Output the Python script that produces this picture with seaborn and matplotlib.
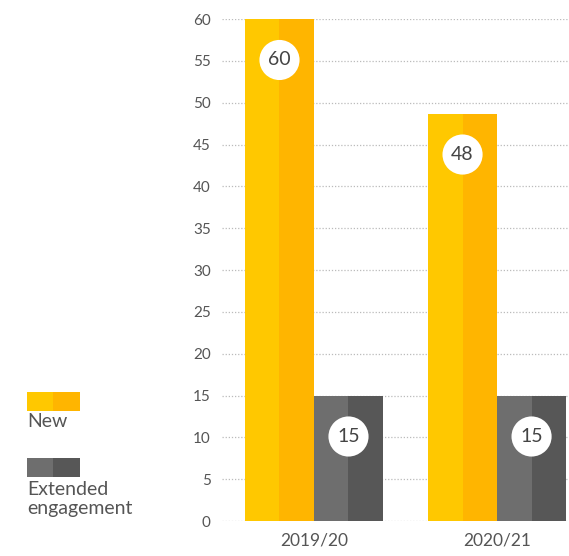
import matplotlib
matplotlib.use("Agg")
import matplotlib.pyplot as plt
from matplotlib.patches import Rectangle
import seaborn as sns
import pandas as pd

years = ["2019/20", "2020/21"]
new_vals = [60, 48.7]
ext_vals = [15, 15]
new_labels = ["60", "48"]
ext_labels = ["15", "15"]
series_names = ["New", "Extended\nengagement"]
y_ticks = list(range(0, 65, 5))

YL, YD = "#FFC800", "#FFB500"
GL, GD = "#6E6E6E", "#575757"
TXT = "#555555"

rows = []
for y, n, e in zip(years, new_vals, ext_vals):
    rows += [(y, "New_a", n), (y, "New_b", n), (y, "Ext_a", e), (y, "Ext_b", e)]
df = pd.DataFrame(rows, columns=["year", "part", "value"])
hue_order = ["New_a", "New_b", "Ext_a", "Ext_b"]
palette = {"New_a": YL, "New_b": YD, "Ext_a": GL, "Ext_b": GD}

sns.set_theme(style="white")
plt.rcParams["font.family"] = ["Lato", "DejaVu Sans"]

fig = plt.figure(figsize=(5.69, 5.56), dpi=100)
ax = fig.add_axes([0.390, 0.0629, 0.610, 0.9029])

sns.barplot(data=df, x="year", y="value", hue="part", hue_order=hue_order,
            palette=palette, order=years, width=0.754, gap=0, dodge=True,
            saturation=1, linewidth=0, ax=ax, legend=False, errorbar=None)

ax.set_xlim(-0.503, 1.393)
ax.set_ylim(0, 60)
ax.set_yticks(y_ticks)
ax.set_yticklabels([str(t) for t in y_ticks])
ax.yaxis.grid(True, linestyle=(0, (1, 1.5)), color="#BBBBBB", linewidth=0.9)
ax.set_axisbelow(True)
for s in ax.spines.values():
    s.set_visible(False)
ax.tick_params(axis="both", length=0, colors=TXT)
ax.tick_params(axis="y", labelsize=11, pad=8)
ax.tick_params(axis="x", labelsize=12.5, pad=8)
ax.set_xlabel("")
ax.set_ylabel("")

# value labels in white circles
bw = 0.754 / 4
for i in range(len(years)):
    for xc, v, lab in [(i - bw, new_vals[i], new_labels[i]),
                       (i + bw, ext_vals[i], ext_labels[i])]:
        ax.annotate(lab, xy=(xc, v), xytext=(0, -29.5), textcoords="offset points",
                    ha="center", va="center", fontsize=14, color="#444444",
                    bbox=dict(boxstyle="circle,pad=0.45", fc="white", ec="none"))

# legend
W, H = 569, 556
def fr(x, y, w, h, c):
    fig.patches.append(Rectangle((x / W, 1 - (y + h) / H), w / W, h / H,
                                 transform=fig.transFigure, color=c, lw=0))
fr(27, 392, 26, 19, YL); fr(53, 392, 27, 19, YD)
fr(27, 458, 26, 19, GL); fr(53, 458, 27, 19, GD)
fig.text(27 / W, 1 - 413 / H, series_names[0], ha="left", va="top", fontsize=14, color=TXT)
fig.text(27 / W, 1 - 481 / H, series_names[1], ha="left", va="top",
         fontsize=14, color=TXT, linespacing=1.15)

fig.savefig("out.png", dpi=100)
